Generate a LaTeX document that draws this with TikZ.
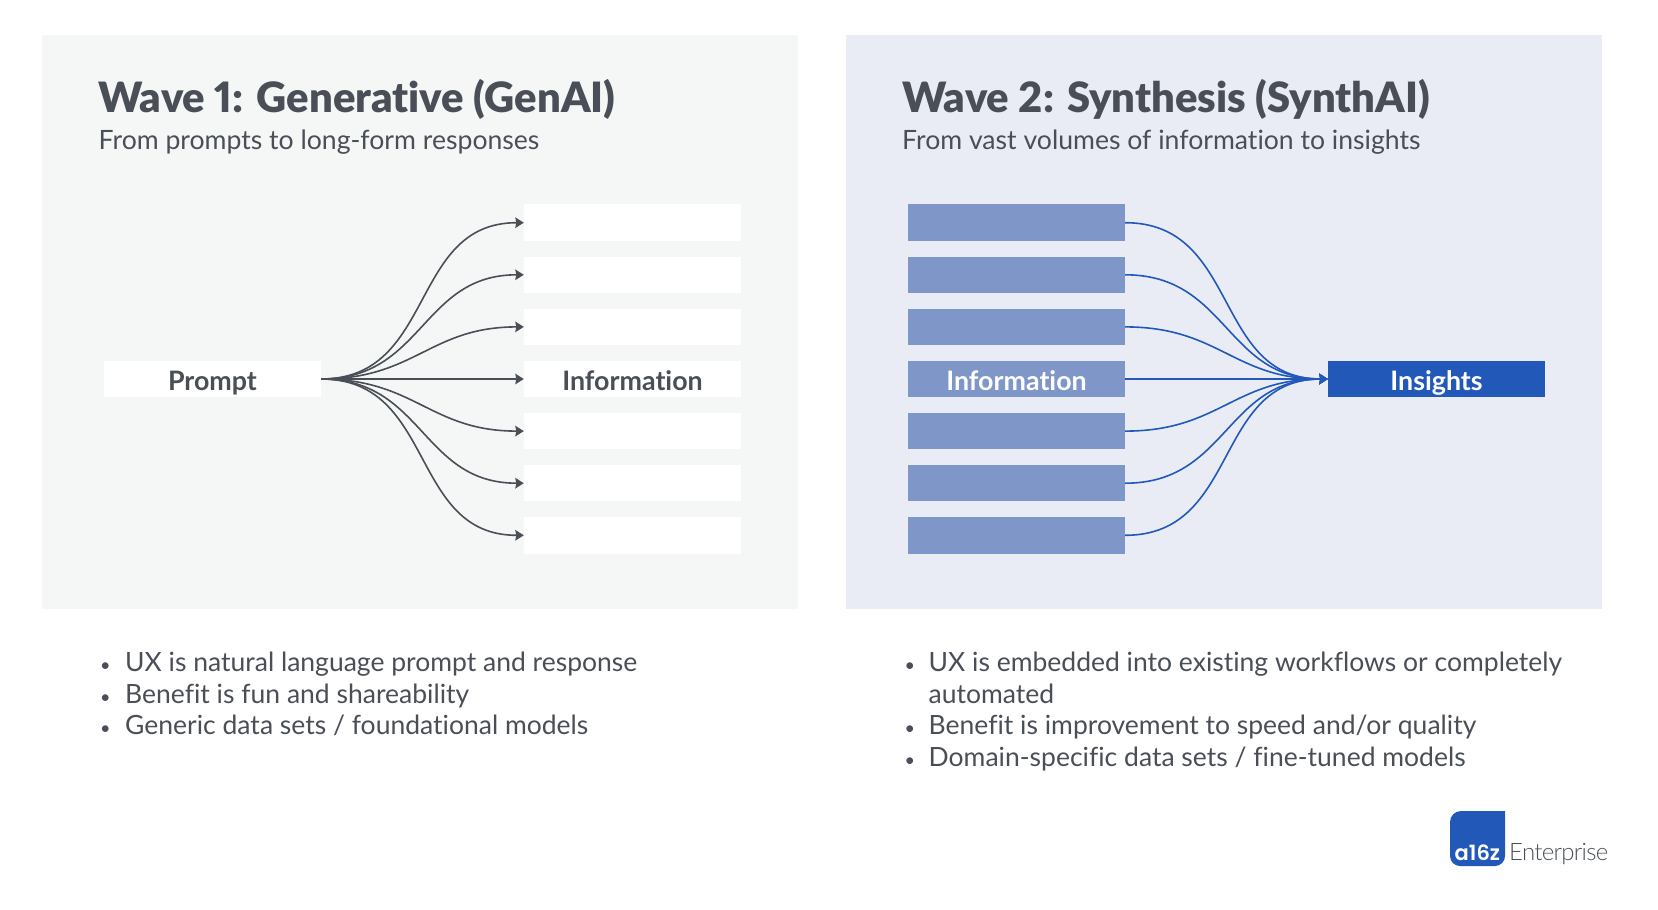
\documentclass[tikz,border=0pt]{standalone}
\usepackage{fontspec}
\setmainfont{Lato}[Ligatures=NoCommon,Numbers=Proportional]
\newfontfamily\headfont{Lato Black}[Ligatures=NoCommon,Numbers=Proportional]
\newfontfamily\logofont{Poppins SemiBold}
\newfontfamily\entfont{Lato Light}
\usetikzlibrary{arrows.meta,positioning}
\definecolor{inkgrey}{HTML}{4A4F57}
\definecolor{panelgrey}{HTML}{F5F7F7}
\definecolor{panelblue}{HTML}{E9ECF5}
\definecolor{midblue}{HTML}{7E97C8}
\definecolor{deepblue}{HTML}{2259B8}
\tikzset{
	panel/.style={anchor=north west,inner sep=0pt,minimum width=756pt,minimum height=573.5pt},
	bar/.style={inner sep=0pt,minimum width=217pt,minimum height=36.5pt,text height=22pt,text depth=0pt,font=\fontsize{26.8}{27}\selectfont\bfseries},
	title/.style={anchor=base west,inner sep=0pt,text=inkgrey,font=\headfont\fontsize{41.8}{42}\selectfont},
	subtitle/.style={anchor=base west,inner sep=0pt,text=inkgrey,font=\fontsize{26.6}{27}\selectfont},
	item/.style={anchor=base west,inner sep=0pt,text=inkgrey,font=\fontsize{26.5}{27}\selectfont},
	itemdot/.style={anchor=base west,inner sep=0pt,text=inkgrey,font=\fontsize{18}{18}\selectfont},
	link/.style={-{Stealth[length=8.5pt,width=10.5pt,inset=1pt]},line width=1.6pt,out=0,in=180,looseness=1.15}
}
\begin{document}
\begin{tikzpicture}[x=1pt,y=-1pt]
	\useasboundingbox (0,0) rectangle (1658,910);
	\node[panel,fill=panelgrey](P1) at (41.5,35){};
	\node[panel,fill=panelblue](P2) at (845.5,35){};

	\node[title](T1) at (98,112){Wave 1: Generative (GenAI)};
	\node[subtitle](S1) at (98.5,149){From prompts to long-form responses};
	\node[title](T2) at (902,112){Wave 2: Synthesis (SynthAI)};
	\node[subtitle](S2) at (902,149){From vast volumes of information to insights};

	% seven bars per panel, the fourth one carries the label
	\foreach \i [count=\n] in {,,,Information,,,}
		\node[bar,fill=white,text=inkgrey](A\n) at (632.5,170.6+\n*52.1){\i};
	\foreach \i [count=\n] in {,,,Information,,,}
		\node[bar,fill=midblue,text=white](B\n) at (1016.5,170.6+\n*52.1){\i};

	\node[bar,fill=white,text=inkgrey](Prompt) at (212.5,379){Prompt};
	\node[bar,fill=deepblue,text=white](Insights) at (1436.5,379){Insights};

	\foreach \n in {1,...,7}{
		\path (Prompt.east) edge [link,draw=inkgrey] (A\n.west);
		\path (B\n.east) edge [link,draw=deepblue] (Insights.west);
	}

	\foreach \y/\t [count=\n] in {671.5/{UX is natural language prompt and response},703/{Benefit is fun and shareability},734.5/{Generic data sets / foundational models}}{
		\node[itemdot](LB\n) at (100,\y){•};
		\node[item](L\n) at (125,\y){\t};
	}
	\foreach \y/\t [count=\n] in {671.5/{UX is embedded into existing workflows or completely},734.5/{Benefit is improvement to speed and/or quality},766/{Domain-specific data sets / fine-tuned models}}{
		\node[itemdot](RB\n) at (904.5,\y){•};
		\node[item](R\n) at (928.5,\y){\t};
	}
	\node[item](R4) at (928.5,703){automated};

	% logo
	\fill[deepblue] (1450,822) arc (180:270:11) -- (1505,811) -- (1505,856) arc (0:90:10) -- (1460,866) arc (90:180:10) -- cycle;
	\node[anchor=base west,inner sep=0pt,text=white,font=\logofont\fontsize{21}{22}\selectfont](Mark) at (1454.5,860){a16z};
	\node[anchor=base west,inner sep=0pt,text=inkgrey,font=\entfont\fontsize{24}{24}\selectfont\addfontfeature{LetterSpace=-3}](Ent) at (1509,860){Enterprise};
\end{tikzpicture}
\end{document}
